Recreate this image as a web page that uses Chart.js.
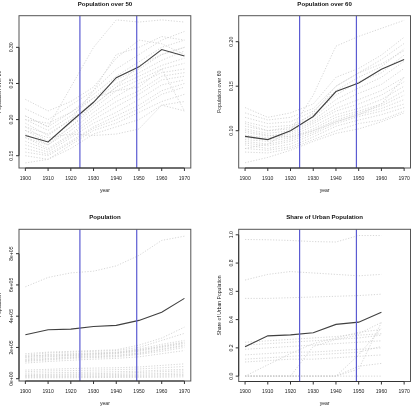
<!DOCTYPE html>
<html>
<head>
<meta charset="utf-8">
<script src="https://cdn.jsdelivr.net/npm/chart.js@4/dist/chart.umd.min.js"></script>
<style>
  html, body { margin: 0; padding: 0; background: #fff; }
  #page { position: relative; width: 417px; height: 418px; overflow: hidden; }
  #page canvas { position: absolute; }
</style>
</head>
<body>
<div id="page">
  <canvas id="p1" width="208" height="208" style="left:0;top:0"></canvas>
  <canvas id="p2" width="209" height="208" style="left:208px;top:0"></canvas>
  <canvas id="p3" width="208" height="210" style="left:0;top:208px"></canvas>
  <canvas id="p4" width="209" height="210" style="left:208px;top:208px"></canvas>
</div>
<script>
// ---- data ----
const years = [1900, 1910, 1920, 1930, 1940, 1950, 1960, 1970];
const urbanYears = [1900, 1910, 1920, 1930, 1940, 1950, 1960];
const xTicks = [1900, 1910, 1920, 1930, 1940, 1950, 1960, 1970];
const markerYears = [1924, 1949];

const over50Main = [0.178, 0.169, 0.197, 0.224, 0.258, 0.273, 0.297, 0.288];
const over50Others = [
  [0.205, 0.190, 0.245, 0.300, 0.338, 0.335, 0.338, 0.335],
  [0.228, 0.212, 0.225, 0.245, 0.285, 0.310, 0.305, 0.290],
  [0.215, 0.200, 0.220, 0.240, 0.270, 0.290, 0.310, 0.322],
  [0.205, 0.190, 0.210, 0.235, 0.260, 0.280, 0.300, 0.310],
  [0.200, 0.185, 0.205, 0.230, 0.255, 0.270, 0.290, 0.300],
  [0.195, 0.178, 0.200, 0.225, 0.250, 0.265, 0.282, 0.295],
  [0.190, 0.170, 0.195, 0.220, 0.245, 0.260, 0.275, 0.285],
  [0.185, 0.168, 0.190, 0.215, 0.240, 0.255, 0.270, 0.278],
  [0.180, 0.165, 0.185, 0.210, 0.232, 0.250, 0.265, 0.270],
  [0.175, 0.160, 0.180, 0.205, 0.225, 0.240, 0.260, 0.265],
  [0.170, 0.158, 0.178, 0.200, 0.218, 0.235, 0.255, 0.260],
  [0.165, 0.155, 0.175, 0.195, 0.210, 0.228, 0.248, 0.255],
  [0.160, 0.152, 0.170, 0.190, 0.205, 0.220, 0.240, 0.250],
  [0.155, 0.150, 0.168, 0.188, 0.200, 0.215, 0.235, 0.245],
  [0.150, 0.145, 0.165, 0.185, 0.195, 0.210, 0.225, 0.235],
  [0.140, 0.145, 0.160, 0.180, 0.190, 0.200, 0.220, 0.225],
  [0.185, 0.175, 0.180, 0.178, 0.180, 0.187, 0.220, 0.212],
  [0.200, 0.195, 0.210, 0.230, 0.240, 0.245, 0.270, 0.212],
  [0.190, 0.180, 0.200, 0.240, 0.290, 0.300, 0.315, 0.310],
  [0.175, 0.165, 0.190, 0.220, 0.245, 0.275, 0.290, 0.300]
];

const over60Main = [0.0936, 0.090, 0.100, 0.116, 0.144, 0.1536, 0.169, 0.180];
const over60Others = [
  [0.080, 0.085, 0.100, 0.140, 0.195, 0.206, 0.215, 0.224],
  [0.126, 0.115, 0.120, 0.130, 0.160, 0.170, 0.185, 0.205],
  [0.120, 0.112, 0.115, 0.125, 0.150, 0.165, 0.180, 0.198],
  [0.115, 0.108, 0.110, 0.122, 0.145, 0.160, 0.172, 0.192],
  [0.110, 0.104, 0.106, 0.118, 0.140, 0.155, 0.165, 0.185],
  [0.105, 0.100, 0.104, 0.115, 0.135, 0.148, 0.160, 0.178],
  [0.102, 0.097, 0.100, 0.112, 0.130, 0.142, 0.152, 0.170],
  [0.098, 0.094, 0.098, 0.110, 0.125, 0.135, 0.145, 0.160],
  [0.095, 0.092, 0.096, 0.108, 0.122, 0.130, 0.140, 0.155],
  [0.092, 0.090, 0.094, 0.105, 0.118, 0.125, 0.135, 0.150],
  [0.090, 0.088, 0.092, 0.102, 0.115, 0.122, 0.130, 0.145],
  [0.088, 0.085, 0.090, 0.100, 0.112, 0.120, 0.128, 0.140],
  [0.086, 0.083, 0.088, 0.098, 0.110, 0.118, 0.125, 0.135],
  [0.084, 0.080, 0.085, 0.096, 0.108, 0.116, 0.122, 0.130],
  [0.080, 0.078, 0.082, 0.093, 0.105, 0.112, 0.118, 0.126],
  [0.076, 0.075, 0.080, 0.090, 0.100, 0.108, 0.112, 0.122],
  [0.064, 0.070, 0.078, 0.088, 0.097, 0.102, 0.110, 0.120],
  [0.100, 0.095, 0.093, 0.100, 0.110, 0.118, 0.130, 0.160],
  [0.108, 0.100, 0.102, 0.120, 0.150, 0.165, 0.175, 0.190]
];

const popMain = [281000, 313000, 317000, 334000, 341000, 373000, 425000, 514000];
const popOthers = [
  [588000, 648000, 677000, 688000, 722000, 789000, 885000, 912000],
  [160000, 170000, 175000, 180000, 185000, 215000, 260000, 330000],
  [150000, 165000, 170000, 175000, 180000, 200000, 245000, 290000],
  [145000, 150000, 155000, 160000, 165000, 185000, 205000, 230000],
  [140000, 155000, 160000, 165000, 170000, 190000, 220000, 245000],
  [135000, 145000, 150000, 158000, 165000, 180000, 210000, 235000],
  [125000, 140000, 148000, 152000, 160000, 175000, 200000, 225000],
  [120000, 130000, 140000, 145000, 150000, 165000, 190000, 215000],
  [115000, 125000, 135000, 140000, 145000, 160000, 185000, 210000],
  [110000, 120000, 130000, 135000, 140000, 155000, 175000, 200000],
  [100000, 110000, 118000, 125000, 130000, 140000, 160000, 180000],
  [55000, 60000, 65000, 68000, 70000, 75000, 85000, 95000],
  [45000, 50000, 52000, 55000, 58000, 62000, 70000, 78000],
  [35000, 38000, 40000, 42000, 45000, 48000, 55000, 60000],
  [25000, 28000, 30000, 32000, 35000, 40000, 45000, 50000],
  [20000, 22000, 24000, 25000, 27000, 30000, 33000, 38000],
  [15000, 16000, 17000, 18000, 20000, 22000, 25000, 28000],
  [10000, 11000, 12000, 13000, 14000, 15000, 17000, 20000],
  [5000, 6000, 6000, 7000, 8000, 9000, 10000, 12000]
];

const urbanMain = [0.208, 0.285, 0.292, 0.307, 0.366, 0.382, 0.452];
const urbanOthers = [
  [0.967, 0.965, 0.960, 0.952, 0.949, 0.995, 0.995],
  [0.680, 0.720, 0.740, 0.730, 0.720, 0.710, 0.720],
  [0.550, 0.550, 0.555, 0.560, 0.565, 0.570, 0.580],
  [0.240, 0.250, 0.260, 0.270, 0.280, 0.300, 0.380],
  [0.220, 0.230, 0.240, 0.250, 0.260, 0.270, 0.290],
  [0.190, 0.200, 0.210, 0.220, 0.230, 0.240, 0.250],
  [0.150, 0.160, 0.170, 0.170, 0.180, 0.190, 0.200],
  [0.120, 0.130, 0.140, 0.150, 0.160, 0.170, 0.210],
  [0.100, 0.110, 0.120, 0.120, 0.130, 0.140, 0.150],
  [0.000, 0.000, 0.000, 0.000, 0.000, 0.000, 0.000],
  [0.000, 0.000, 0.000, 0.000, 0.000, 0.050, 0.380],
  [0.000, 0.000, 0.000, 0.000, 0.000, 0.070, 0.090],
  [0.000, 0.080, 0.160, 0.230, 0.270, 0.310, 0.330],
  [0.000, 0.000, 0.000, 0.210, 0.260, 0.290, 0.300],
  [0.000, 0.000, 0.000, 0.000, 0.000, 0.150, 0.340]
];

const over50Ticks = [0.15, 0.20, 0.25, 0.30];
const over50Labels = ["0.15", "0.20", "0.25", "0.30"];
const over60Ticks = [0.10, 0.15, 0.20];
const over60Labels = ["0.10", "0.15", "0.20"];
const popTicks = [0, 200000, 400000, 600000, 800000];
const popLabels = ["0e+00", "2e+05", "4e+05", "6e+05", "8e+05"];
const urbanTicks = [0, 0.2, 0.4, 0.6, 0.8, 1.0];
const urbanLabels = ["0.0", "0.2", "0.4", "0.6", "0.8", "1.0"];

// ---- R-style frame, axes and titles ----
const FONT = '"Liberation Sans", Arial, sans-serif';

const rAxesPlugin = {
  id: "rAxes",
  afterDraw(chart, args, opts) {
    const ctx = chart.ctx;
    const area = chart.chartArea;
    const xs = chart.scales.x;
    const ys = chart.scales.y;
    const tick = 3;

    ctx.save();
    ctx.strokeStyle = "#555";
    ctx.lineWidth = 1;
    ctx.strokeRect(area.left, area.top, area.right - area.left, area.bottom - area.top);

    ctx.strokeStyle = "#333";
    ctx.fillStyle = "#222";
    ctx.font = "5.1px " + FONT;
    ctx.textAlign = "center";
    ctx.textBaseline = "middle";

    // x axis
    const xp = opts.xTicks.map((v) => xs.getPixelForValue(v));
    ctx.beginPath();
    ctx.moveTo(xp[0], area.bottom);
    ctx.lineTo(xp[xp.length - 1], area.bottom);
    xp.forEach((p) => {
      ctx.moveTo(p, area.bottom);
      ctx.lineTo(p, area.bottom + tick);
    });
    ctx.stroke();
    xp.forEach((p, i) => ctx.fillText(String(opts.xTicks[i]), p, area.bottom + 10.2));
    ctx.fillText("year", (area.left + area.right) / 2, area.bottom + 22.4);

    // y axis
    const yp = opts.yTicks.map((v) => ys.getPixelForValue(v));
    ctx.beginPath();
    ctx.moveTo(area.left, yp[0]);
    ctx.lineTo(area.left, yp[yp.length - 1]);
    yp.forEach((p) => {
      ctx.moveTo(area.left, p);
      ctx.lineTo(area.left - tick, p);
    });
    ctx.stroke();
    yp.forEach((p, i) => {
      ctx.save();
      ctx.translate(area.left - 7.5, p);
      ctx.rotate(-Math.PI / 2);
      ctx.fillText(opts.yLabels[i], 0, 0);
      ctx.restore();
    });
    ctx.save();
    ctx.translate(area.left - 19.4, (area.top + area.bottom) / 2);
    ctx.rotate(-Math.PI / 2);
    ctx.fillText(opts.yTitle, 0, 0);
    ctx.restore();

    // title
    ctx.font = "bold 6.1px " + FONT;
    ctx.fillStyle = "#111";
    ctx.fillText(opts.title, (area.left + area.right) / 2, area.top - 11.8);
    ctx.restore();
  }
};

function makePanel(id, p) {
  const canvas = document.getElementById(id);
  const offX = parseFloat(canvas.style.left) || 0;
  const offY = parseFloat(canvas.style.top) || 0;
  const toPts = (xv, yv) => xv.map((x, i) => ({ x: x, y: yv[i] }));

  const datasets = [];
  markerYears.forEach((yr) => {
    datasets.push({
      data: [{ x: yr, y: p.yMin }, { x: yr, y: p.yMax }],
      borderColor: "#5b5bd2",
      borderWidth: 1.2,
      order: 0
    });
  });
  datasets.push({
    data: toPts(p.xVals, p.main),
    borderColor: "#404040",
    borderWidth: 1.1,
    order: 1
  });
  p.others.forEach((s) => {
    datasets.push({
      data: toPts(p.xVals, s),
      borderColor: "#cbcbcb",
      borderWidth: 0.8,
      borderDash: [1.2, 1.6],
      order: 2
    });
  });

  return new Chart(canvas, {
    type: "line",
    data: { datasets: datasets },
    options: {
      responsive: false,
      animation: false,
      devicePixelRatio: 1,
      layout: {
        padding: {
          left: p.box.left - offX,
          top: p.box.top - offY,
          right: canvas.width - (p.box.right - offX),
          bottom: canvas.height - (p.box.bottom - offY)
        }
      },
      elements: { point: { radius: 0 }, line: { tension: 0 } },
      scales: {
        x: { type: "linear", min: 1897.2, max: 1972.8, display: false },
        y: { type: "linear", min: p.yMin, max: p.yMax, display: false }
      },
      plugins: {
        legend: { display: false },
        tooltip: { enabled: false },
        rAxes: {
          title: p.title,
          yTitle: p.yTitle,
          xTicks: xTicks,
          yTicks: p.yTicks,
          yLabels: p.yLabels
        }
      }
    },
    plugins: [rAxesPlugin]
  });
}

makePanel("p1", {
  title: "Population over 50", yTitle: "Population over 50",
  box: { left: 19, top: 15.7, right: 190.8, bottom: 168 },
  yMin: 0.133, yMax: 0.3438,
  yTicks: over50Ticks, yLabels: over50Labels,
  xVals: years, main: over50Main, others: over50Others
});
makePanel("p2", {
  title: "Population over 60", yTitle: "Population over 60",
  box: { left: 238.7, top: 15.7, right: 410.5, bottom: 168 },
  yMin: 0.0581, yMax: 0.2292,
  yTicks: over60Ticks, yLabels: over60Labels,
  xVals: years, main: over60Main, others: over60Others
});
makePanel("p3", {
  title: "Population", yTitle: "Population",
  box: { left: 19, top: 229.3, right: 190.8, bottom: 381 },
  yMin: -14700, yMax: 956000,
  yTicks: popTicks, yLabels: popLabels,
  xVals: years, main: popMain, others: popOthers
});
makePanel("p4", {
  title: "Share of Urban Population", yTitle: "Share of Urban Population",
  box: { left: 238.7, top: 229.3, right: 410.5, bottom: 381.5 },
  yMin: -0.038, yMax: 1.039,
  yTicks: urbanTicks, yLabels: urbanLabels,
  xVals: urbanYears, main: urbanMain, others: urbanOthers
});
</script>
</body>
</html>
